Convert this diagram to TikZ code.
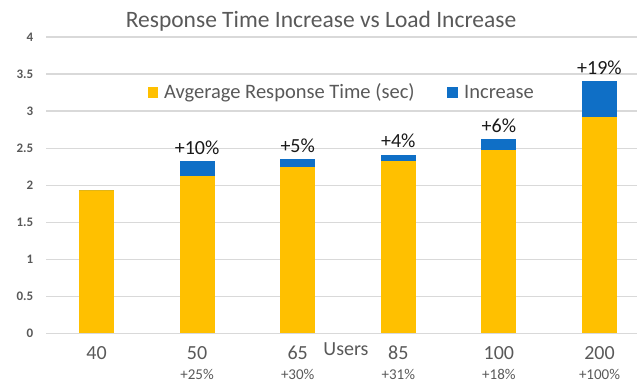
\documentclass[tikz,border=0pt]{standalone}
\usepackage{fontspec}
\setmainfont{Carlito}
\definecolor{barorange}{HTML}{FFC000}
\definecolor{barblue}{HTML}{0F6FC6}
\definecolor{txtgray}{HTML}{595959}
\definecolor{gridgray}{HTML}{D9D9D9}
\begin{document}
\begin{tikzpicture}[x=1pt,y=1pt,
  gridline/.style={draw=gridgray,line width=1.2pt},
  ylab/.style={anchor=east,text=txtgray,font=\fontsize{13}{15}\selectfont\bfseries,inner sep=0pt},
  xlab/.style={text=txtgray,font=\fontsize{20}{24}\selectfont,inner sep=0pt},
  xsub/.style={text=txtgray,font=\fontsize{15}{18}\selectfont,inner sep=0pt},
  pct/.style={anchor=base,text=black!90,font=\fontsize{20}{24}\selectfont,inner sep=0pt},
  legtxt/.style={anchor=west,text=txtgray,font=\fontsize{20.5}{24}\selectfont,inner sep=0pt},
  orangebar/.style={fill=barorange},
  bluebar/.style={fill=barblue}]
\useasboundingbox (0,0) rectangle (638,383);
% grid
\foreach \v/\t [count=\i] in {0/0,0.5/0.5,1/1,1.5/1.5,2/2,2.5/2.5,3/3,3.5/3.5,4/4}{
  \draw[gridline] (46,{49.7+74.07*\v}) -- (637,{49.7+74.07*\v});
  \node[ylab] (y\i) at (33.5,{49.7+74.07*\v}) {\t};
}
% title
\node[text=txtgray,font=\fontsize{23.5}{28}\selectfont,inner sep=0pt] (title) at (321,362) {Response Time Increase vs Load Increase};
% bars
\foreach \c/\o/\s/\lab/\sub/\p [count=\i] in {
  96.5/1.93/1.93/40//,
  197.1/2.13/2.32/50/+25\%/+10\%,
  297.7/2.25/2.35/65/+30\%/+5\%,
  398.3/2.32/2.41/85/+31\%/+4\%,
  498.9/2.47/2.62/100/+18\%/+6\%,
  599.5/2.92/3.40/200/+100\%/+19\%}{
  \fill[orangebar] ({\c-17.5},49.7) rectangle ({\c+17.5},{49.7+74.07*\o});
  \fill[bluebar] ({\c-17.5},{49.7+74.07*\o}) rectangle ({\c+17.5},{49.7+74.07*\s});
  \node[xlab] (x\i) at (\c,30) {\lab};
  \node[xsub] (s\i) at (\c,8.5) {\sub};
  \node[pct] (p\i) at (\c,{49.7+74.07*\s+7}) {\p};
}
\node[xlab] (users) at (346,34) {Users};
% legend
\fill[orangebar] (148,285) rectangle (158,296);
\node[legtxt] (leg1) at (164,290.5) {Avgerage Response Time (sec)};
\fill[bluebar] (447,285) rectangle (458,296);
\node[legtxt] (leg2) at (464,290.5) {Increase};
\end{tikzpicture}
\end{document}
